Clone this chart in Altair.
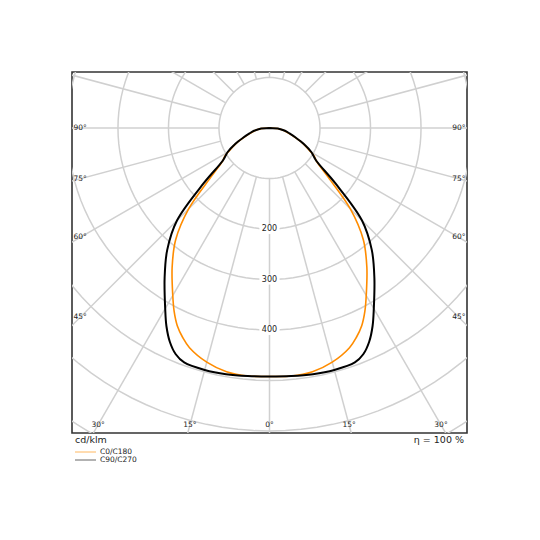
import altair as alt
import pandas as pd
import numpy as np

# ---- data (cd/klm) ----
gamma = [0, 5, 10, 15, 20, 22.5, 25, 27.5, 30, 35, 40, 45, 50, 55, 58, 60, 65, 70, 75, 80, 85, 90]
c0_c180 = [492, 493, 490, 480, 463, 449, 432, 409, 383, 336, 289, 226, 152, 113, 104, 94, 74, 53, 39, 29, 19, 0]
c90_c270 = [492, 493, 495, 496, 494, 485, 467, 442, 413, 362, 315, 259, 170, 113, 102, 96, 75, 55, 41, 31, 20, 0]

ring_values = [100, 200, 300, 400, 500, 600, 700, 800]
ring_labels = [200, 300, 400]
side_labels = [90, 75, 60, 45]
bottom_labels = [30, 15, 0]

XM = 391.0   # half width of view in cd/klm
YT = 111.0
YB = -604.0
W, H = 395, 361

def curve(name, vals):
    ang = [-g for g in reversed(gamma)][:-1] + gamma
    iv = list(reversed(vals))[:-1] + vals
    return pd.DataFrame({"series": name, "ang": ang, "I": iv, "ord": range(len(ang))})

curves = pd.concat([curve("C0/C180", c0_c180), curve("C90/C270", c90_c270)])

# grid rings
ring_rows = []
for r in ring_values:
    for k, a in enumerate(np.arange(0, 361, 3)):
        ring_rows.append({"r": r, "a": float(a), "k": k})
rings = pd.DataFrame(ring_rows)

radials = pd.DataFrame({"a": list(range(0, 360, 15))})

xs = alt.Scale(domain=[-XM, XM], nice=False, zero=False)
ys = alt.Scale(domain=[YB, YT], nice=False, zero=False)

ring_layer = alt.Chart(rings).transform_calculate(
    x="datum.r*sin(datum.a*PI/180)", y="-datum.r*cos(datum.a*PI/180)"
).mark_line(color="#d0d0d0", strokeWidth=1.5, clip=True).encode(
    x=alt.X("x:Q", scale=xs, axis=None),
    y=alt.Y("y:Q", scale=ys, axis=None),
    detail="r:N", order="k:Q")

radial_layer = alt.Chart(radials).transform_calculate(
    x="100*sin(datum.a*PI/180)", y="-100*cos(datum.a*PI/180)",
    x2="1000*sin(datum.a*PI/180)", y2="-1000*cos(datum.a*PI/180)"
).mark_rule(color="#d0d0d0", strokeWidth=1.5, clip=True).encode(
    x=alt.X("x:Q", scale=xs, axis=None), y=alt.Y("y:Q", scale=ys, axis=None),
    x2="x2:Q", y2="y2:Q")

lab_df = pd.DataFrame({"v": ring_labels})
lab_bg = alt.Chart(lab_df).transform_calculate(
    x1="-20", x2="20", y1="-datum.v-10", y2="-datum.v+10"
).mark_rect(color="white").encode(
    x=alt.X("x1:Q", scale=xs, axis=None), x2="x2:Q",
    y=alt.Y("y1:Q", scale=ys, axis=None), y2="y2:Q")
lab_txt = alt.Chart(lab_df).transform_calculate(
    x="0", y="-datum.v", t="''+datum.v"
).mark_text(font="DejaVu Sans", fontSize=8, color="#222").encode(
    x=alt.X("x:Q", scale=xs, axis=None), y=alt.Y("y:Q", scale=ys, axis=None), text="t:N")

curve_layer = alt.Chart(curves).transform_calculate(
    x="datum.I*sin(datum.ang*PI/180)", y="-datum.I*cos(datum.ang*PI/180)"
).mark_line(strokeJoin="round", clip=True, interpolate="catmull-rom").encode(
    x=alt.X("x:Q", scale=xs, axis=None),
    y=alt.Y("y:Q", scale=ys, axis=None),
    color=alt.Color("series:N", scale=alt.Scale(domain=["C0/C180", "C90/C270"], range=["#ff8c00", "#000000"]), legend=None),
    strokeWidth=alt.StrokeWidth("series:N", scale=alt.Scale(domain=["C0/C180", "C90/C270"], range=[1.6, 2.0]), legend=None),
    detail="series:N", order="ord:Q")

side_df = pd.DataFrame({"a": side_labels * 2, "s": [-1] * 4 + [1] * 4})
side_txt = alt.Chart(side_df).transform_calculate(
    x=f"datum.s*({XM}-16)", y=f"-({XM}-16)*cos(datum.a*PI/180)/sin(datum.a*PI/180)",
    t="datum.a+'°'"
).mark_text(font="DejaVu Sans", fontSize=7.5, color="#222").encode(
    x=alt.X("x:Q", scale=xs, axis=None), y=alt.Y("y:Q", scale=ys, axis=None), text="t:N")

bot_df = pd.DataFrame({"a": [30, 15, 0, 15, 30], "s": [-1, -1, 0, 1, 1]})
bot_txt = alt.Chart(bot_df).transform_calculate(
    x=f"datum.s*({-YB}-16)*tan(datum.a*PI/180)", y=f"{YB}+16",
    t="datum.a+'°'"
).mark_text(font="DejaVu Sans", fontSize=7.5, color="#222").encode(
    x=alt.X("x:Q", scale=xs, axis=None), y=alt.Y("y:Q", scale=ys, axis=None), text="t:N")

unit_txt = alt.Chart(pd.DataFrame({"t": ["cd/klm"]})).mark_text(
    font="DejaVu Sans", fontSize=9.5, align="left", color="#222"
).encode(x=alt.value(3), y=alt.value(H + 7), text="t:N")
eta_txt = alt.Chart(pd.DataFrame({"t": ["η = 100 %"]})).mark_text(
    font="DejaVu Sans", fontSize=9.5, align="right", color="#222"
).encode(x=alt.value(W - 3), y=alt.value(H + 7), text="t:N")

leg1 = alt.Chart(pd.DataFrame({"t": ["C0/C180"]})).mark_rule(color="#ffb860", strokeWidth=1).encode(
    x=alt.value(3), x2=alt.value(24), y=alt.value(H + 19))
leg2 = alt.Chart(pd.DataFrame({"t": ["C90/C270"]})).mark_rule(color="#666666", strokeWidth=1).encode(
    x=alt.value(3), x2=alt.value(24), y=alt.value(H + 27))
legt1 = alt.Chart(pd.DataFrame({"t": ["C0/C180"]})).mark_text(
    font="DejaVu Sans", fontSize=7.5, align="left", color="#222").encode(
    x=alt.value(28), y=alt.value(H + 19), text="t:N")
legt2 = alt.Chart(pd.DataFrame({"t": ["C90/C270"]})).mark_text(
    font="DejaVu Sans", fontSize=7.5, align="left", color="#222").encode(
    x=alt.value(28), y=alt.value(H + 27), text="t:N")

chart = alt.layer(
    ring_layer, radial_layer, lab_bg, lab_txt, curve_layer, side_txt, bot_txt,
    unit_txt, eta_txt, leg1, leg2, legt1, legt2
).properties(
    width=W, height=H,
    autosize=alt.AutoSizeParams(type="none"),
    padding={"left": 64, "top": 64, "right": 65, "bottom": 100},
    background="white",
).configure_view(stroke="#333333", strokeWidth=1.6)

chart.save("out.html", embed_options={"renderer": "svg", "actions": False})
